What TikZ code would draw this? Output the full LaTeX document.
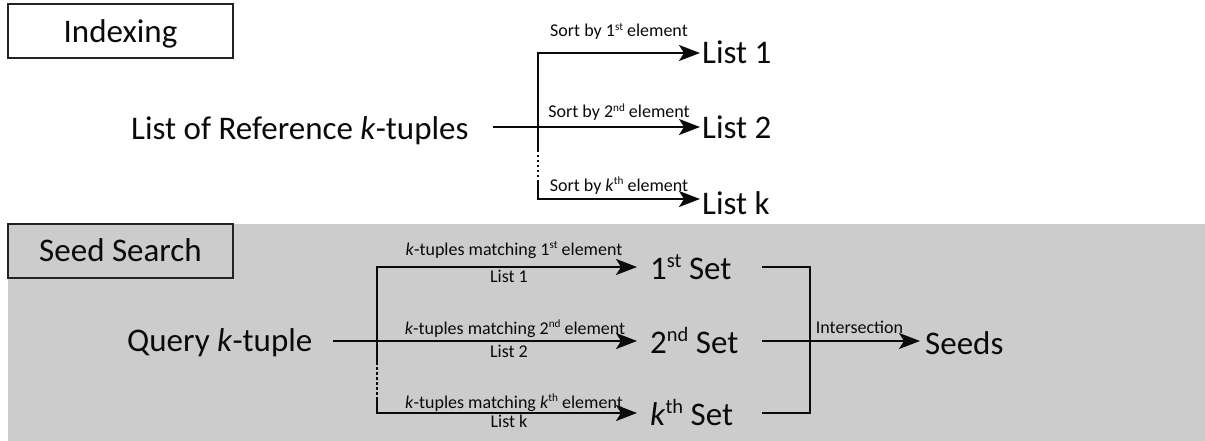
\documentclass[tikz,border=0pt]{standalone}
\usepackage{fontspec}
\setmainfont{Carlito}
\usetikzlibrary{arrows.meta,calc}
\definecolor{panelgray}{HTML}{CCCCCC}
\definecolor{ink}{HTML}{0A0A0A}
% small raised ordinal suffix
\newcommand{\ordsup}[1]{\raisebox{0.36em}{\scalebox{0.62}{#1}}}
\begin{document}
\begin{tikzpicture}[x=1pt,y=1pt,
  big/.style={font=\fontsize{33}{40}\selectfont, inner sep=0pt, text=ink},
  lbl/.style={font=\fontsize{18}{22}\selectfont, inner sep=0pt, text=ink},
  ln/.style={line width=2pt, draw=ink},
  arr/.style={ln, -{Stealth[length=21pt 0 0,width=16pt 0 0,inset=5pt]}},
  dots/.style={line width=1.5pt, draw=ink, dash pattern=on 2.5pt off 2.5pt},
  tag/.style={draw=ink!90, line width=2pt, minimum width=225pt, minimum height=54pt,
    font=\fontsize{33}{40}\selectfont, text=ink, text height=25pt, text depth=3pt, inner sep=0pt}]
\useasboundingbox (0,0) rectangle (1205,-441);

% shaded panel of the search stage
\fill[panelgray] (8,-224) rectangle (1205,-441);

% stage titles
\node[tag] (indexing) at (120.5,-31.3) {Indexing};
\node[tag, fill=panelgray] (seedsearch) at (120.5,-250.5) {Seed Search};

% ---------- indexing stage ----------
\node[big, anchor=base west] (refk) at (131,-140) {List of Reference \textit{k}-tuples};
\node[big, anchor=base west] (list1) at (702,-64) {List 1};
\node[big, anchor=base west] (list2) at (702,-139) {List 2};
\node[big, anchor=base west] (listk) at (702,-214) {List k};

\coordinate (inA) at (493,-127);
\coordinate (forkA) at (538,-127);
\coordinate (topA) at (538,-53);
\coordinate (botA) at (538,-199);
\coordinate (gapA1) at (538,-150);
\coordinate (gapA2) at (538,-182);

\draw[arr, shorten >=2pt] (inA) -- (list2.west |- forkA);
\draw[arr, shorten >=2pt] (gapA1) -- (topA) -- (list1.west |- topA);
\draw[dots] (gapA1) -- (gapA2);
\draw[arr, shorten >=2pt] (gapA2) -- (botA) -- (listk.west |- botA);

\node[lbl, anchor=base] (sort1) at (619,-37) {Sort by 1\ordsup{st} element};
\node[lbl, anchor=base] (sort2) at (619,-118) {Sort by 2\ordsup{nd} element};
\node[lbl, anchor=base] (sortk) at (619,-191) {Sort by \textit{k}\ordsup{th} element};

% ---------- seed search stage ----------
\node[big, anchor=base west] (query) at (127,-351) {Query \textit{k}-tuple};
\node[big, anchor=base west] (set1) at (650,-279) {1\ordsup{st} Set};
\node[big, anchor=base west] (set2) at (650,-353) {2\ordsup{nd} Set};
\node[big, anchor=base west] (setk) at (650,-425) {\textit{k}\ordsup{th} Set};
\node[big, anchor=base west] (seeds) at (925,-354) {Seeds};

\coordinate (inB) at (333,-341);
\coordinate (forkB) at (377,-341);
\coordinate (topB) at (377,-267);
\coordinate (botB) at (377,-413);
\coordinate (gapB1) at (377,-362);
\coordinate (gapB2) at (377,-398);

\draw[arr, shorten >=13pt] (inB) -- (set2.west |- forkB);
\draw[arr, shorten >=13pt] (gapB1) -- (topB) -- (set1.west |- topB);
\draw[dots] (gapB1) -- (gapB2);
\draw[arr, shorten >=13pt] (gapB2) -- (botB) -- (setk.west |- botB);

\node[lbl, anchor=base] (match1) at (514,-255) {\textit{k}-tuples matching 1\ordsup{st} element};
\node[lbl, anchor=base] (src1) at (509,-282) {List 1};
\node[lbl, anchor=base] (match2) at (515,-334) {\textit{k}-tuples matching 2\ordsup{nd} element};
\node[lbl, anchor=base] (src2) at (509,-357) {List 2};
\node[lbl, anchor=base] (matchk) at (514,-408) {\textit{k}-tuples matching \textit{k}\ordsup{th} element};
\node[lbl, anchor=base] (srck) at (509,-427) {List k};

% intersection of the k sets
\coordinate (joinT) at (762,-267);
\coordinate (joinM) at (762,-341);
\coordinate (joinB) at (762,-413);
\coordinate (barT) at (810,-267);
\coordinate (barB) at (810,-413);

\draw[ln] (joinT) -- (barT) -- (barB) -- (joinB);
\draw[arr, shorten >=5pt] (joinM) -- (seeds.west |- joinM);
\node[lbl, anchor=base] (isect) at (859.5,-333) {Intersection};
\end{tikzpicture}
\end{document}
